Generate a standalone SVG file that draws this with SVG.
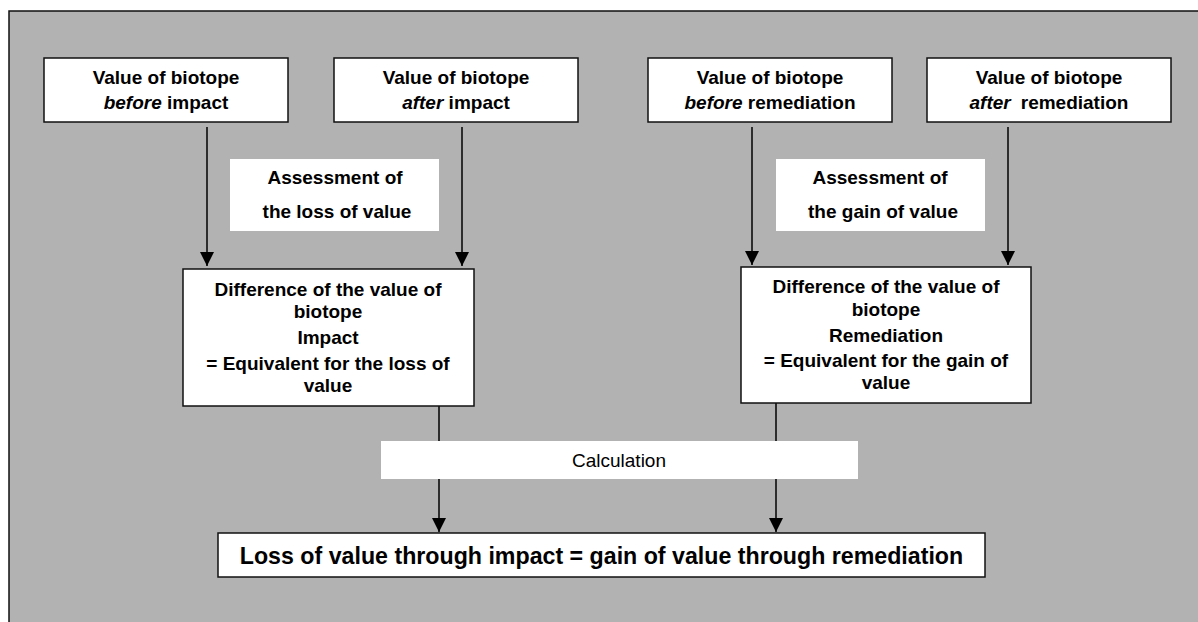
<svg xmlns="http://www.w3.org/2000/svg" width="1198" height="622" viewBox="0 0 1198 622">
<defs>
<marker id="ah" markerWidth="14" markerHeight="14" refX="14" refY="7" orient="auto" markerUnits="userSpaceOnUse">
<path d="M0,0 L14,7 L0,14 Z" fill="#000"/>
</marker>
<style>
.box{fill:#fff;stroke:#111;stroke-width:1.5}
.lbl{fill:#fff;stroke:none}
.t{font-family:"Liberation Sans",Arial,sans-serif;font-size:19px;font-weight:bold;fill:#000;text-anchor:middle}
.r{font-family:"Liberation Sans",Arial,sans-serif;font-size:19px;fill:#000;text-anchor:middle}
.big{font-family:"Liberation Sans",Arial,sans-serif;font-size:23.2px;font-weight:bold;fill:#000;text-anchor:middle}
.i{font-style:italic}
.c{stroke:#000;stroke-width:1.5;fill:none}
</style>
</defs>
<rect x="0" y="0" width="1198" height="622" fill="#fff"/>
<rect id="frame" x="9" y="11" width="1200" height="620" fill="#b2b2b2" stroke="#111" stroke-width="1.5"/>

<g id="connectors">
<line class="c" x1="207" y1="127" x2="207" y2="266" marker-end="url(#ah)"/>
<line class="c" x1="462" y1="127" x2="462" y2="266" marker-end="url(#ah)"/>
<line class="c" x1="752" y1="127" x2="752" y2="265" marker-end="url(#ah)"/>
<line class="c" x1="1008" y1="127" x2="1008" y2="265" marker-end="url(#ah)"/>
<line class="c" x1="439" y1="406" x2="439" y2="532" marker-end="url(#ah)"/>
<line class="c" x1="776" y1="403" x2="776" y2="532" marker-end="url(#ah)"/>
</g>

<g id="before-impact">
<rect class="box" x="44" y="58" width="244" height="64"/>
<text class="t" x="166" y="84">Value of biotope</text>
<text class="t" x="166" y="109"><tspan class="i">before</tspan> impact</text>
</g>
<g id="after-impact">
<rect class="box" x="334" y="58" width="244" height="64"/>
<text class="t" x="456" y="84">Value of biotope</text>
<text class="t" x="456" y="109"><tspan class="i">after</tspan> impact</text>
</g>
<g id="before-remediation">
<rect class="box" x="648" y="58" width="244" height="64"/>
<text class="t" x="770" y="84">Value of biotope</text>
<text class="t" x="770" y="109"><tspan class="i">before</tspan> remediation</text>
</g>
<g id="after-remediation">
<rect class="box" x="927" y="58" width="244" height="64"/>
<text class="t" x="1049" y="84">Value of biotope</text>
<text class="t" x="1049" y="109"><tspan class="i">after</tspan><tspan dx="10">remediation</tspan></text>
</g>

<g id="assess-loss">
<rect class="lbl" x="230" y="159" width="209" height="72"/>
<text class="t" x="335" y="184">Assessment of</text>
<text class="t" x="337" y="218">the loss of value</text>
</g>
<g id="assess-gain">
<rect class="lbl" x="776" y="159" width="209" height="72"/>
<text class="t" x="880" y="184">Assessment of</text>
<text class="t" x="883" y="218">the gain of value</text>
</g>

<g id="diff-impact">
<rect class="box" x="183" y="269" width="291" height="137"/>
<text class="t" x="328" y="296">Difference of the value of</text>
<text class="t" x="328" y="318">biotope</text>
<text class="t" x="328" y="344">Impact</text>
<text class="t" x="328" y="370">= Equivalent for the loss of</text>
<text class="t" x="328" y="392">value</text>
</g>
<g id="diff-remediation">
<rect class="box" x="741" y="267" width="290" height="136"/>
<text class="t" x="886" y="293">Difference of the value of</text>
<text class="t" x="886" y="316">biotope</text>
<text class="t" x="886" y="342">Remediation</text>
<text class="t" x="886" y="367">= Equivalent for the gain of</text>
<text class="t" x="886" y="389">value</text>
</g>

<g id="calculation">
<rect class="lbl" x="381" y="441" width="477" height="38"/>
<text class="r" x="619" y="467">Calculation</text>
</g>

<g id="result">
<rect class="box" x="218" y="533" width="767" height="44"/>
<text class="big" x="601.5" y="564">Loss of value through impact = gain of value through remediation</text>
</g>
</svg>
